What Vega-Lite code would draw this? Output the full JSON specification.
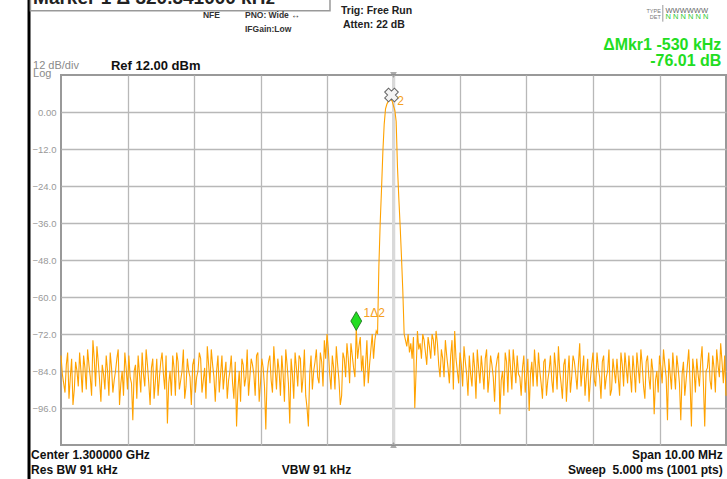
{
  "$schema": "https://vega.github.io/schema/vega-lite/v6.json",
  "width": 665,
  "height": 370,
  "autosize": {"type": "none"},
  "padding": {"left": 61, "top": 75, "right": 1, "bottom": 34},
  "background": "white",
  "config": {
    "view": {"stroke": "#999999", "strokeWidth": 2},
    "font": "Liberation Sans",
    "text": {"font": "Liberation Sans"}
  },
  "datasets": {
    "trace": [
      {"f": -5.00, "dbm": -79}, {"f": -4.96, "dbm": -88}, {"f": -4.92, "dbm": -82}, {"f": -4.88, "dbm": -93},
      {"f": -4.84, "dbm": -80}, {"f": -4.80, "dbm": -90}, {"f": -4.76, "dbm": -84}, {"f": -4.72, "dbm": -78},
      {"f": -4.68, "dbm": -91}, {"f": -4.64, "dbm": -83}, {"f": -4.60, "dbm": -77}, {"f": -4.56, "dbm": -86},
      {"f": -4.52, "dbm": -74}, {"f": -4.48, "dbm": -89}, {"f": -4.44, "dbm": -81}, {"f": -4.40, "dbm": -94},
      {"f": -4.36, "dbm": -85}, {"f": -4.32, "dbm": -79}, {"f": -4.28, "dbm": -92}, {"f": -4.24, "dbm": -83},
      {"f": -4.20, "dbm": -87}, {"f": -4.16, "dbm": -80}, {"f": -4.12, "dbm": -95}, {"f": -4.08, "dbm": -84},
      {"f": -4.04, "dbm": -78}, {"f": -4.00, "dbm": -90}, {"f": -3.96, "dbm": -86}, {"f": -3.92, "dbm": -100},
      {"f": -3.88, "dbm": -82}, {"f": -3.84, "dbm": -79}, {"f": -3.80, "dbm": -91}, {"f": -3.76, "dbm": -85},
      {"f": -3.72, "dbm": -77}, {"f": -3.68, "dbm": -88}, {"f": -3.64, "dbm": -83}, {"f": -3.60, "dbm": -93},
      {"f": -3.56, "dbm": -80}, {"f": -3.52, "dbm": -86}, {"f": -3.48, "dbm": -78}, {"f": -3.44, "dbm": -90},
      {"f": -3.40, "dbm": -101}, {"f": -3.36, "dbm": -84}, {"f": -3.32, "dbm": -79}, {"f": -3.28, "dbm": -92},
      {"f": -3.24, "dbm": -81}, {"f": -3.20, "dbm": -87}, {"f": -3.16, "dbm": -77}, {"f": -3.12, "dbm": -89},
      {"f": -3.08, "dbm": -84}, {"f": -3.04, "dbm": -95}, {"f": -3.00, "dbm": -80}, {"f": -2.96, "dbm": -86},
      {"f": -2.92, "dbm": -78}, {"f": -2.88, "dbm": -91}, {"f": -2.84, "dbm": -83}, {"f": -2.80, "dbm": -76},
      {"f": -2.76, "dbm": -88}, {"f": -2.72, "dbm": -82}, {"f": -2.68, "dbm": -94}, {"f": -2.64, "dbm": -79},
      {"f": -2.60, "dbm": -85}, {"f": -2.56, "dbm": -90}, {"f": -2.52, "dbm": -81}, {"f": -2.48, "dbm": -87},
      {"f": -2.44, "dbm": -79}, {"f": -2.40, "dbm": -93}, {"f": -2.36, "dbm": -102}, {"f": -2.32, "dbm": -84},
      {"f": -2.28, "dbm": -80}, {"f": -2.24, "dbm": -89}, {"f": -2.20, "dbm": -77}, {"f": -2.16, "dbm": -86},
      {"f": -2.12, "dbm": -82}, {"f": -2.08, "dbm": -92}, {"f": -2.04, "dbm": -78}, {"f": -2.00, "dbm": -88},
      {"f": -1.96, "dbm": -83}, {"f": -1.92, "dbm": -103}, {"f": -1.88, "dbm": -81}, {"f": -1.84, "dbm": -87},
      {"f": -1.80, "dbm": -76}, {"f": -1.76, "dbm": -90}, {"f": -1.72, "dbm": -84}, {"f": -1.68, "dbm": -79},
      {"f": -1.64, "dbm": -94}, {"f": -1.60, "dbm": -82}, {"f": -1.56, "dbm": -101}, {"f": -1.52, "dbm": -85},
      {"f": -1.48, "dbm": -78}, {"f": -1.44, "dbm": -89}, {"f": -1.40, "dbm": -80}, {"f": -1.36, "dbm": -86},
      {"f": -1.32, "dbm": -92}, {"f": -1.28, "dbm": -102}, {"f": -1.24, "dbm": -79}, {"f": -1.20, "dbm": -84},
      {"f": -1.16, "dbm": -77}, {"f": -1.12, "dbm": -88}, {"f": -1.08, "dbm": -81}, {"f": -1.04, "dbm": -74},
      {"f": -1.00, "dbm": -72}, {"f": -0.96, "dbm": -85}, {"f": -0.92, "dbm": -79}, {"f": -0.88, "dbm": -90},
      {"f": -0.84, "dbm": -82}, {"f": -0.80, "dbm": -95}, {"f": -0.76, "dbm": -78}, {"f": -0.72, "dbm": -86},
      {"f": -0.68, "dbm": -80}, {"f": -0.64, "dbm": -75}, {"f": -0.60, "dbm": -83}, {"f": -0.56, "dbm": -70},
      {"f": -0.52, "dbm": -76}, {"f": -0.48, "dbm": -84}, {"f": -0.44, "dbm": -89}, {"f": -0.40, "dbm": -74},
      {"f": -0.36, "dbm": -82}, {"f": -0.32, "dbm": -72},
      {"f": -0.30, "dbm": -80}, {"f": -0.28, "dbm": -74}, {"f": -0.26, "dbm": -71}, {"f": -0.24, "dbm": -72},
      {"f": -0.22, "dbm": -50}, {"f": -0.20, "dbm": -36}, {"f": -0.18, "dbm": -25}, {"f": -0.16, "dbm": -13},
      {"f": -0.14, "dbm": -4}, {"f": -0.12, "dbm": 1}, {"f": -0.10, "dbm": 2.5}, {"f": -0.08, "dbm": 3.5},
      {"f": -0.06, "dbm": 4}, {"f": -0.04, "dbm": 4}, {"f": -0.02, "dbm": 3.5}, {"f": 0.00, "dbm": 2},
      {"f": 0.02, "dbm": 0.5}, {"f": 0.04, "dbm": -3}, {"f": 0.06, "dbm": -18}, {"f": 0.08, "dbm": -28},
      {"f": 0.10, "dbm": -37}, {"f": 0.12, "dbm": -47}, {"f": 0.14, "dbm": -58}, {"f": 0.16, "dbm": -72},
      {"f": 0.18, "dbm": -74}, {"f": 0.20, "dbm": -76}, {"f": 0.22, "dbm": -72}, {"f": 0.24, "dbm": -78},
      {"f": 0.26, "dbm": -75}, {"f": 0.28, "dbm": -80}, {"f": 0.30, "dbm": -73},
      {"f": 0.32, "dbm": -96}, {"f": 0.36, "dbm": -71}, {"f": 0.40, "dbm": -75}, {"f": 0.44, "dbm": -72},
      {"f": 0.48, "dbm": -78}, {"f": 0.52, "dbm": -73}, {"f": 0.56, "dbm": -80}, {"f": 0.60, "dbm": -74},
      {"f": 0.64, "dbm": -71}, {"f": 0.68, "dbm": -82}, {"f": 0.72, "dbm": -77}, {"f": 0.76, "dbm": -86},
      {"f": 0.80, "dbm": -79}, {"f": 0.84, "dbm": -88}, {"f": 0.88, "dbm": -74}, {"f": 0.92, "dbm": -71},
      {"f": 0.96, "dbm": -84}, {"f": 1.00, "dbm": -78}, {"f": 1.04, "dbm": -89}, {"f": 1.08, "dbm": -81},
      {"f": 1.12, "dbm": -92}, {"f": 1.16, "dbm": -85}, {"f": 1.20, "dbm": -78}, {"f": 1.24, "dbm": -93},
      {"f": 1.28, "dbm": -83}, {"f": 1.32, "dbm": -79}, {"f": 1.36, "dbm": -90}, {"f": 1.40, "dbm": -77},
      {"f": 1.44, "dbm": -86}, {"f": 1.48, "dbm": -82}, {"f": 1.52, "dbm": -94}, {"f": 1.56, "dbm": -80},
      {"f": 1.60, "dbm": -98}, {"f": 1.64, "dbm": -84}, {"f": 1.68, "dbm": -78}, {"f": 1.72, "dbm": -91},
      {"f": 1.76, "dbm": -83}, {"f": 1.80, "dbm": -77}, {"f": 1.84, "dbm": -88}, {"f": 1.88, "dbm": -85},
      {"f": 1.92, "dbm": -92}, {"f": 1.96, "dbm": -79}, {"f": 2.00, "dbm": -86}, {"f": 2.04, "dbm": -97},
      {"f": 2.08, "dbm": -81}, {"f": 2.12, "dbm": -77}, {"f": 2.16, "dbm": -89}, {"f": 2.20, "dbm": -84},
      {"f": 2.24, "dbm": -93}, {"f": 2.28, "dbm": -80}, {"f": 2.32, "dbm": -87}, {"f": 2.36, "dbm": -79},
      {"f": 2.40, "dbm": -91}, {"f": 2.44, "dbm": -83}, {"f": 2.48, "dbm": -76}, {"f": 2.52, "dbm": -88},
      {"f": 2.56, "dbm": -82}, {"f": 2.60, "dbm": -94}, {"f": 2.64, "dbm": -79}, {"f": 2.68, "dbm": -86},
      {"f": 2.72, "dbm": -81}, {"f": 2.76, "dbm": -90}, {"f": 2.80, "dbm": -75}, {"f": 2.84, "dbm": -84},
      {"f": 2.88, "dbm": -92}, {"f": 2.92, "dbm": -80}, {"f": 2.96, "dbm": -87}, {"f": 3.00, "dbm": -78},
      {"f": 3.04, "dbm": -89}, {"f": 3.08, "dbm": -83}, {"f": 3.12, "dbm": -93}, {"f": 3.16, "dbm": -79},
      {"f": 3.20, "dbm": -86}, {"f": 3.24, "dbm": -77}, {"f": 3.28, "dbm": -90}, {"f": 3.32, "dbm": -84},
      {"f": 3.36, "dbm": -80}, {"f": 3.40, "dbm": -92}, {"f": 3.44, "dbm": -82}, {"f": 3.48, "dbm": -78},
      {"f": 3.52, "dbm": -88}, {"f": 3.56, "dbm": -85}, {"f": 3.60, "dbm": -79}, {"f": 3.64, "dbm": -91},
      {"f": 3.68, "dbm": -83}, {"f": 3.72, "dbm": -77}, {"f": 3.76, "dbm": -89}, {"f": 3.80, "dbm": -81},
      {"f": 3.84, "dbm": -86}, {"f": 3.88, "dbm": -80}, {"f": 3.92, "dbm": -98}, {"f": 3.96, "dbm": -84},
      {"f": 4.00, "dbm": -79}, {"f": 4.04, "dbm": -88}, {"f": 4.08, "dbm": -82}, {"f": 4.12, "dbm": -100},
      {"f": 4.16, "dbm": -85}, {"f": 4.20, "dbm": -78}, {"f": 4.24, "dbm": -90}, {"f": 4.28, "dbm": -83},
      {"f": 4.32, "dbm": -100}, {"f": 4.36, "dbm": -81}, {"f": 4.40, "dbm": -87}, {"f": 4.44, "dbm": -77},
      {"f": 4.48, "dbm": -102}, {"f": 4.52, "dbm": -84}, {"f": 4.56, "dbm": -80}, {"f": 4.60, "dbm": -89},
      {"f": 4.64, "dbm": -76}, {"f": 4.68, "dbm": -102}, {"f": 4.72, "dbm": -83}, {"f": 4.76, "dbm": -87},
      {"f": 4.80, "dbm": -79}, {"f": 4.84, "dbm": -91}, {"f": 4.88, "dbm": -82}, {"f": 4.92, "dbm": -75},
      {"f": 4.96, "dbm": -88}, {"f": 5.00, "dbm": -92},
      {"f": -4.98, "dbm": -85}, {"f": -4.94, "dbm": -91}, {"f": -4.90, "dbm": -78}, {"f": -4.86, "dbm": -86},
      {"f": -4.82, "dbm": -95}, {"f": -4.78, "dbm": -81}, {"f": -4.74, "dbm": -89}, {"f": -4.70, "dbm": -84},
      {"f": -4.66, "dbm": -79}, {"f": -4.62, "dbm": -90}, {"f": -4.58, "dbm": -82}, {"f": -4.54, "dbm": -92},
      {"f": -4.50, "dbm": -80}, {"f": -4.46, "dbm": -76}, {"f": -4.42, "dbm": -87}, {"f": -4.38, "dbm": -82},
      {"f": -4.34, "dbm": -90}, {"f": -4.30, "dbm": -84}, {"f": -4.26, "dbm": -78}, {"f": -4.22, "dbm": -91},
      {"f": -4.18, "dbm": -84}, {"f": -4.14, "dbm": -77}, {"f": -4.10, "dbm": -88}, {"f": -4.06, "dbm": -92},
      {"f": -4.02, "dbm": -83}, {"f": -3.98, "dbm": -79}, {"f": -3.94, "dbm": -88}, {"f": -3.90, "dbm": -84},
      {"f": -3.86, "dbm": -93}, {"f": -3.82, "dbm": -85}, {"f": -3.78, "dbm": -78}, {"f": -3.74, "dbm": -89},
      {"f": -3.70, "dbm": -82}, {"f": -3.66, "dbm": -95}, {"f": -3.62, "dbm": -80}, {"f": -3.58, "dbm": -87},
      {"f": -3.54, "dbm": -92}, {"f": -3.50, "dbm": -81}, {"f": -3.46, "dbm": -85}, {"f": -3.42, "dbm": -79},
      {"f": -3.38, "dbm": -88}, {"f": -3.34, "dbm": -92}, {"f": -3.30, "dbm": -83}, {"f": -3.26, "dbm": -78},
      {"f": -3.22, "dbm": -90}, {"f": -3.18, "dbm": -84}, {"f": -3.14, "dbm": -93}, {"f": -3.10, "dbm": -80},
      {"f": -3.06, "dbm": -86}, {"f": -3.02, "dbm": -82}, {"f": -2.98, "dbm": -91}, {"f": -2.94, "dbm": -84},
      {"f": -2.90, "dbm": -80}, {"f": -2.86, "dbm": -87}, {"f": -2.82, "dbm": -93}, {"f": -2.78, "dbm": -82},
      {"f": -2.74, "dbm": -77}, {"f": -2.70, "dbm": -86}, {"f": -2.66, "dbm": -84}, {"f": -2.62, "dbm": -91},
      {"f": -2.58, "dbm": -79}, {"f": -2.54, "dbm": -85}, {"f": -2.50, "dbm": -93}, {"f": -2.46, "dbm": -84},
      {"f": -2.42, "dbm": -88}, {"f": -2.38, "dbm": -81}, {"f": -2.34, "dbm": -90}, {"f": -2.30, "dbm": -94},
      {"f": -2.26, "dbm": -82}, {"f": -2.22, "dbm": -86}, {"f": -2.18, "dbm": -92}, {"f": -2.14, "dbm": -80},
      {"f": -2.10, "dbm": -85}, {"f": -2.06, "dbm": -79}, {"f": -2.02, "dbm": -94}, {"f": -1.98, "dbm": -80},
      {"f": -1.94, "dbm": -89}, {"f": -1.90, "dbm": -85}, {"f": -1.86, "dbm": -79}, {"f": -1.82, "dbm": -91},
      {"f": -1.78, "dbm": -83}, {"f": -1.74, "dbm": -80}, {"f": -1.70, "dbm": -92}, {"f": -1.66, "dbm": -85},
      {"f": -1.62, "dbm": -77}, {"f": -1.58, "dbm": -88}, {"f": -1.54, "dbm": -80}, {"f": -1.50, "dbm": -93},
      {"f": -1.46, "dbm": -83}, {"f": -1.42, "dbm": -79}, {"f": -1.38, "dbm": -91}, {"f": -1.34, "dbm": -77},
      {"f": -1.30, "dbm": -96}, {"f": -1.26, "dbm": -85}, {"f": -1.22, "dbm": -90}, {"f": -1.18, "dbm": -81},
      {"f": -1.14, "dbm": -86}, {"f": -1.10, "dbm": -78}, {"f": -1.06, "dbm": -89}, {"f": -1.02, "dbm": -80},
      {"f": -0.98, "dbm": -77}, {"f": -0.94, "dbm": -90}, {"f": -0.90, "dbm": -83}, {"f": -0.86, "dbm": -76},
      {"f": -0.82, "dbm": -87}, {"f": -0.78, "dbm": -92}, {"f": -0.74, "dbm": -80}, {"f": -0.70, "dbm": -75},
      {"f": -0.66, "dbm": -88}, {"f": -0.62, "dbm": -79}, {"f": -0.58, "dbm": -86}, {"f": -0.54, "dbm": -80},
      {"f": -0.50, "dbm": -73}, {"f": -0.46, "dbm": -79}, {"f": -0.42, "dbm": -82}, {"f": -0.38, "dbm": -88},
      {"f": -0.34, "dbm": -77},
      {"f": 0.34, "dbm": -84}, {"f": 0.38, "dbm": -77}, {"f": 0.42, "dbm": -80}, {"f": 0.46, "dbm": -74},
      {"f": 0.50, "dbm": -82}, {"f": 0.54, "dbm": -76}, {"f": 0.58, "dbm": -72}, {"f": 0.62, "dbm": -79},
      {"f": 0.66, "dbm": -75}, {"f": 0.70, "dbm": -86}, {"f": 0.74, "dbm": -80}, {"f": 0.78, "dbm": -74},
      {"f": 0.82, "dbm": -83}, {"f": 0.86, "dbm": -79}, {"f": 0.90, "dbm": -90}, {"f": 0.94, "dbm": -80},
      {"f": 0.98, "dbm": -88}, {"f": 1.02, "dbm": -82}, {"f": 1.06, "dbm": -76}, {"f": 1.10, "dbm": -85},
      {"f": 1.14, "dbm": -79}, {"f": 1.18, "dbm": -89}, {"f": 1.22, "dbm": -83}, {"f": 1.26, "dbm": -77},
      {"f": 1.30, "dbm": -88}, {"f": 1.34, "dbm": -84}, {"f": 1.38, "dbm": -80}, {"f": 1.42, "dbm": -91},
      {"f": 1.46, "dbm": -79}, {"f": 1.50, "dbm": -86}, {"f": 1.54, "dbm": -83}, {"f": 1.58, "dbm": -78},
      {"f": 1.62, "dbm": -87}, {"f": 1.66, "dbm": -92}, {"f": 1.70, "dbm": -81}, {"f": 1.74, "dbm": -77},
      {"f": 1.78, "dbm": -90}, {"f": 1.82, "dbm": -82}, {"f": 1.86, "dbm": -79}, {"f": 1.90, "dbm": -86},
      {"f": 1.94, "dbm": -83}, {"f": 1.98, "dbm": -91}, {"f": 2.02, "dbm": -80}, {"f": 2.06, "dbm": -85},
      {"f": 2.10, "dbm": -89}, {"f": 2.14, "dbm": -83}, {"f": 2.18, "dbm": -78}, {"f": 2.22, "dbm": -88},
      {"f": 2.26, "dbm": -81}, {"f": 2.30, "dbm": -92}, {"f": 2.34, "dbm": -84}, {"f": 2.38, "dbm": -87},
      {"f": 2.42, "dbm": -78}, {"f": 2.46, "dbm": -90}, {"f": 2.50, "dbm": -84}, {"f": 2.54, "dbm": -93},
      {"f": 2.58, "dbm": -80}, {"f": 2.62, "dbm": -86}, {"f": 2.66, "dbm": -91}, {"f": 2.70, "dbm": -79},
      {"f": 2.74, "dbm": -85}, {"f": 2.78, "dbm": -82}, {"f": 2.82, "dbm": -89}, {"f": 2.86, "dbm": -79},
      {"f": 2.90, "dbm": -86}, {"f": 2.94, "dbm": -94}, {"f": 2.98, "dbm": -82}, {"f": 3.02, "dbm": -87},
      {"f": 3.06, "dbm": -78}, {"f": 3.10, "dbm": -86}, {"f": 3.14, "dbm": -81}, {"f": 3.18, "dbm": -90},
      {"f": 3.22, "dbm": -84}, {"f": 3.26, "dbm": -92}, {"f": 3.30, "dbm": -80}, {"f": 3.34, "dbm": -88},
      {"f": 3.38, "dbm": -86}, {"f": 3.42, "dbm": -78}, {"f": 3.46, "dbm": -89}, {"f": 3.50, "dbm": -83},
      {"f": 3.54, "dbm": -79}, {"f": 3.58, "dbm": -91}, {"f": 3.62, "dbm": -84}, {"f": 3.66, "dbm": -78},
      {"f": 3.70, "dbm": -88}, {"f": 3.74, "dbm": -82}, {"f": 3.78, "dbm": -93}, {"f": 3.82, "dbm": -79},
      {"f": 3.86, "dbm": -90}, {"f": 3.90, "dbm": -84}, {"f": 3.94, "dbm": -87}, {"f": 3.98, "dbm": -91},
      {"f": 4.02, "dbm": -83}, {"f": 4.06, "dbm": -77}, {"f": 4.10, "dbm": -86}, {"f": 4.14, "dbm": -80},
      {"f": 4.18, "dbm": -90}, {"f": 4.22, "dbm": -84}, {"f": 4.26, "dbm": -79}, {"f": 4.30, "dbm": -88},
      {"f": 4.34, "dbm": -85}, {"f": 4.38, "dbm": -92}, {"f": 4.42, "dbm": -82}, {"f": 4.46, "dbm": -88},
      {"f": 4.50, "dbm": -80}, {"f": 4.54, "dbm": -91}, {"f": 4.58, "dbm": -85}, {"f": 4.62, "dbm": -81},
      {"f": 4.66, "dbm": -88}, {"f": 4.70, "dbm": -84}, {"f": 4.74, "dbm": -78}, {"f": 4.78, "dbm": -90},
      {"f": 4.82, "dbm": -83}, {"f": 4.86, "dbm": -77}, {"f": 4.90, "dbm": -86}, {"f": 4.94, "dbm": -81},
      {"f": 4.98, "dbm": -79}
    ]
  },
  "layer": [
    {
      "data": {"values": [{"f": 0, "lo": -108, "hi": 12}]},
      "mark": {"type": "rule", "color": "#d9d9d9", "strokeWidth": 3},
      "encoding": {
        "x": {"field": "f", "type": "quantitative", "scale": {"domain": [-5, 5], "nice": false, "zero": false},
              "axis": {"values": [-4, -3, -2, -1, 0, 1, 2, 3, 4], "labels": false, "ticks": false, "domain": false, "title": null,
                       "grid": true, "gridColor": "#b8b8b8", "gridWidth": 1.3}},
        "y": {"field": "lo", "type": "quantitative", "scale": {"domain": [-108, 12], "nice": false, "zero": false},
              "axis": {"values": [0, -12, -24, -36, -48, -60, -72, -84, -96], "labelExpr": "datum.value == 0 ? '0.00' : format(datum.value, '.1f')",
                       "ticks": false, "domain": false, "title": null, "labelColor": "#999999", "labelFontSize": 9.5, "labelPadding": 5,
                       "labelFont": "Liberation Sans", "grid": true, "gridColor": "#b8b8b8", "gridWidth": 1.3}},
        "y2": {"field": "hi"}
      }
    },
    {
      "data": {"name": "trace"},
      "mark": {"type": "line", "color": "#ffa200", "strokeWidth": 1.1, "interpolate": "linear"},
      "encoding": {
        "x": {"field": "f", "type": "quantitative", "scale": {"domain": [-5, 5], "nice": false, "zero": false}},
        "y": {"field": "dbm", "type": "quantitative", "scale": {"domain": [-108, 12], "nice": false, "zero": false}}
      }
    },
    {
      "data": {"values": [{"f": 0, "v": 12, "s": "triangle-down"}, {"f": 0, "v": -108, "s": "triangle-up"}]},
      "mark": {"type": "point", "filled": true, "color": "#888888", "size": 45},
      "encoding": {
        "x": {"field": "f", "type": "quantitative", "scale": {"domain": [-5, 5], "nice": false, "zero": false}},
        "y": {"field": "v", "type": "quantitative", "scale": {"domain": [-108, 12], "nice": false, "zero": false}},
        "shape": {"field": "s", "type": "nominal", "scale": null, "legend": null}
      }
    },
    {
      "data": {"values": [{"f": -0.56, "v": -67.8}]},
      "mark": {"type": "point", "shape": "M0,-1.3L0.75,0L0,1.3L-0.75,0Z", "filled": true, "fill": "#22dd22", "stroke": "#116611", "strokeWidth": 0.8, "size": 210, "opacity": 1},
      "encoding": {
        "x": {"field": "f", "type": "quantitative", "scale": {"domain": [-5, 5], "nice": false, "zero": false}},
        "y": {"field": "v", "type": "quantitative", "scale": {"domain": [-108, 12], "nice": false, "zero": false}}
      }
    },
    {
      "data": {"values": [{"f": -0.03, "v": 5.5}]},
      "mark": {"type": "point", "shape": "cross", "angle": 45, "filled": true, "fill": "#f4f4f4", "stroke": "#666666", "strokeWidth": 1, "size": 190, "opacity": 1},
      "encoding": {
        "x": {"field": "f", "type": "quantitative", "scale": {"domain": [-5, 5], "nice": false, "zero": false}},
        "y": {"field": "v", "type": "quantitative", "scale": {"domain": [-108, 12], "nice": false, "zero": false}}
      }
    },
    {
      "data": {"values": [{"f": -0.45, "v": -65.2, "t": "1Δ2"}, {"f": 0.055, "v": 3.6, "t": "2"}]},
      "mark": {"type": "text", "align": "left", "baseline": "middle", "color": "#f5a020", "fontSize": 12, "font": "Liberation Sans"},
      "encoding": {
        "x": {"field": "f", "type": "quantitative", "scale": {"domain": [-5, 5], "nice": false, "zero": false}},
        "y": {"field": "v", "type": "quantitative", "scale": {"domain": [-108, 12], "nice": false, "zero": false}},
        "text": {"field": "t"}
      }
    },
    {
      "data": {"values": [{"f": -5.481, "lo": -125, "hi": 40}]},
      "mark": {"type": "rule", "color": "#000000", "strokeWidth": 3},
      "encoding": {
        "x": {"field": "f", "type": "quantitative", "scale": {"domain": [-5, 5], "nice": false, "zero": false}},
        "y": {"field": "lo", "type": "quantitative", "scale": {"domain": [-108, 12], "nice": false, "zero": false}},
        "y2": {"field": "hi"}
      }
    },
    {
      "data": {"values": [{"x1": -5.46, "x2": -0.955, "y1": 32.8, "y2": 40}]},
      "mark": {"type": "rect", "fill": "#ffffff", "stroke": "#999999", "strokeWidth": 1.5},
      "encoding": {
        "x": {"field": "x1", "type": "quantitative", "scale": {"domain": [-5, 5], "nice": false, "zero": false}},
        "x2": {"field": "x2"},
        "y": {"field": "y1", "type": "quantitative", "scale": {"domain": [-108, 12], "nice": false, "zero": false}},
        "y2": {"field": "y2"}
      }
    },
    {
      "data": {"values": [{"f": -5.42, "v": 34.9, "t": "Marker 1 Δ  320.341000 kHz"}]},
      "mark": {"type": "text", "align": "left", "baseline": "alphabetic", "color": "#222222", "fontSize": 19, "fontWeight": "bold"},
      "encoding": {
        "x": {"field": "f", "type": "quantitative", "scale": {"domain": [-5, 5], "nice": false, "zero": false}},
        "y": {"field": "v", "type": "quantitative", "scale": {"domain": [-108, 12], "nice": false, "zero": false}},
        "text": {"field": "t"}
      }
    },
    {
      "data": {"values": [{"f": -5.42, "v": 15.0, "t": "12 dB/div"}, {"f": -5.42, "v": 12.4, "t": "Log"}]},
      "mark": {"type": "text", "align": "left", "baseline": "middle", "color": "#8a8a8a", "fontSize": 11},
      "encoding": {
        "x": {"field": "f", "type": "quantitative", "scale": {"domain": [-5, 5], "nice": false, "zero": false}},
        "y": {"field": "v", "type": "quantitative", "scale": {"domain": [-108, 12], "nice": false, "zero": false}},
        "text": {"field": "t"}
      }
    },
    {
      "data": {"values": [{"f": -4.25, "v": 14.9, "t": "Ref 12.00 dBm"}]},
      "mark": {"type": "text", "align": "left", "baseline": "middle", "color": "#111111", "fontSize": 13, "fontWeight": "bold"},
      "encoding": {
        "x": {"field": "f", "type": "quantitative", "scale": {"domain": [-5, 5], "nice": false, "zero": false}},
        "y": {"field": "v", "type": "quantitative", "scale": {"domain": [-108, 12], "nice": false, "zero": false}},
        "text": {"field": "t"}
      }
    },
    {
      "data": {"values": [
        {"f": -2.865, "v": 31.5, "t": "NFE"},
        {"f": -2.233, "v": 31.5, "t": "PNO: Wide ↔"},
        {"f": -2.233, "v": 27.0, "t": "IFGain:Low"}
      ]},
      "mark": {"type": "text", "align": "left", "baseline": "middle", "color": "#333333", "fontSize": 8.5, "fontWeight": "bold"},
      "encoding": {
        "x": {"field": "f", "type": "quantitative", "scale": {"domain": [-5, 5], "nice": false, "zero": false}},
        "y": {"field": "v", "type": "quantitative", "scale": {"domain": [-108, 12], "nice": false, "zero": false}},
        "text": {"field": "t"}
      }
    },
    {
      "data": {"values": [
        {"f": -0.79, "v": 32.6, "t": "Trig: Free Run"},
        {"f": -0.76, "v": 28.2, "t": "Atten: 22 dB"}
      ]},
      "mark": {"type": "text", "align": "left", "baseline": "middle", "color": "#222222", "fontSize": 10.5, "fontWeight": "bold"},
      "encoding": {
        "x": {"field": "f", "type": "quantitative", "scale": {"domain": [-5, 5], "nice": false, "zero": false}},
        "y": {"field": "v", "type": "quantitative", "scale": {"domain": [-108, 12], "nice": false, "zero": false}},
        "text": {"field": "t"}
      }
    },
    {
      "data": {"values": [
        {"f": 4.02, "v": 32.9, "t": "TYPE"},
        {"f": 4.02, "v": 30.8, "t": "DET"}
      ]},
      "mark": {"type": "text", "align": "right", "baseline": "middle", "color": "#777777", "fontSize": 5.5},
      "encoding": {
        "x": {"field": "f", "type": "quantitative", "scale": {"domain": [-5, 5], "nice": false, "zero": false}},
        "y": {"field": "v", "type": "quantitative", "scale": {"domain": [-108, 12], "nice": false, "zero": false}},
        "text": {"field": "t"}
      }
    },
    {
      "data": {"values": [{"f": 4.05, "lo": 29.3, "hi": 34.7}]},
      "mark": {"type": "rule", "color": "#999999", "strokeWidth": 1},
      "encoding": {
        "x": {"field": "f", "type": "quantitative", "scale": {"domain": [-5, 5], "nice": false, "zero": false}},
        "y": {"field": "lo", "type": "quantitative", "scale": {"domain": [-108, 12], "nice": false, "zero": false}},
        "y2": {"field": "hi"}
      }
    },
    {
      "data": {"values": [{"f": 4.09, "v": 32.9, "t": "WWWWWW"}]},
      "mark": {"type": "text", "align": "left", "baseline": "middle", "color": "#666666", "fontSize": 7.5},
      "encoding": {
        "x": {"field": "f", "type": "quantitative", "scale": {"domain": [-5, 5], "nice": false, "zero": false}},
        "y": {"field": "v", "type": "quantitative", "scale": {"domain": [-108, 12], "nice": false, "zero": false}},
        "text": {"field": "t"}
      }
    },
    {
      "data": {"values": [{"f": 4.09, "v": 30.8, "t": "N N N N N N"}]},
      "mark": {"type": "text", "align": "left", "baseline": "middle", "color": "#33cc33", "fontSize": 7.5},
      "encoding": {
        "x": {"field": "f", "type": "quantitative", "scale": {"domain": [-5, 5], "nice": false, "zero": false}},
        "y": {"field": "v", "type": "quantitative", "scale": {"domain": [-108, 12], "nice": false, "zero": false}},
        "text": {"field": "t"}
      }
    },
    {
      "data": {"values": [
        {"f": 4.93, "v": 21.7, "t": "ΔMkr1 -530 kHz"},
        {"f": 4.93, "v": 16.5, "t": "-76.01 dB"}
      ]},
      "mark": {"type": "text", "align": "right", "baseline": "middle", "color": "#22dd22", "fontSize": 16, "fontWeight": "bold"},
      "encoding": {
        "x": {"field": "f", "type": "quantitative", "scale": {"domain": [-5, 5], "nice": false, "zero": false}},
        "y": {"field": "v", "type": "quantitative", "scale": {"domain": [-108, 12], "nice": false, "zero": false}},
        "text": {"field": "t"}
      }
    },
    {
      "data": {"values": [
        {"f": -5.45, "v": -111.3, "t": "Center 1.300000 GHz"},
        {"f": -5.45, "v": -116.1, "t": "Res BW 91 kHz"},
        {"f": -1.68, "v": -116.1, "t": "VBW 91 kHz"}
      ]},
      "mark": {"type": "text", "align": "left", "baseline": "middle", "color": "#111111", "fontSize": 12, "fontWeight": "bold"},
      "encoding": {
        "x": {"field": "f", "type": "quantitative", "scale": {"domain": [-5, 5], "nice": false, "zero": false}},
        "y": {"field": "v", "type": "quantitative", "scale": {"domain": [-108, 12], "nice": false, "zero": false}},
        "text": {"field": "t"}
      }
    },
    {
      "data": {"values": [
        {"f": 4.95, "v": -111.3, "t": "Span 10.00 MHz"},
        {"f": 4.95, "v": -116.1, "t": "Sweep\u00a0\u00a05.000 ms (1001 pts)"}
      ]},
      "mark": {"type": "text", "align": "right", "baseline": "middle", "color": "#111111", "fontSize": 12, "fontWeight": "bold"},
      "encoding": {
        "x": {"field": "f", "type": "quantitative", "scale": {"domain": [-5, 5], "nice": false, "zero": false}},
        "y": {"field": "v", "type": "quantitative", "scale": {"domain": [-108, 12], "nice": false, "zero": false}},
        "text": {"field": "t"}
      }
    }
  ]
}
